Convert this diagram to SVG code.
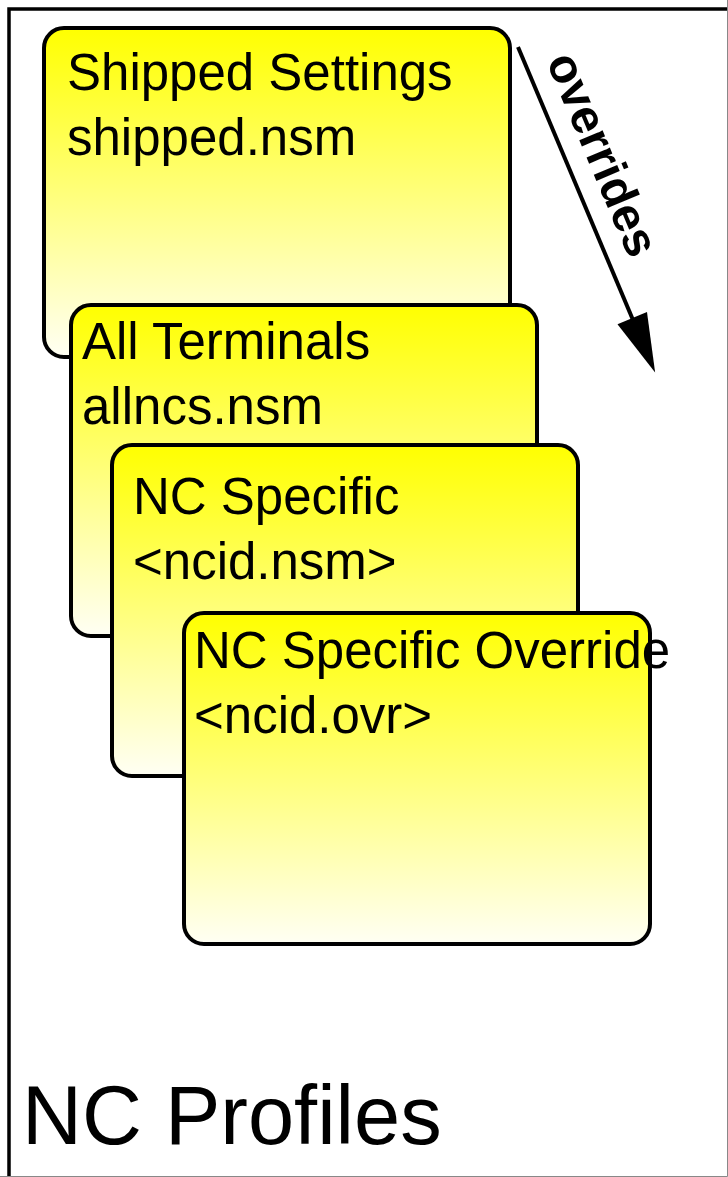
<svg xmlns="http://www.w3.org/2000/svg" width="728" height="1177" viewBox="0 0 728 1177">
  <style>
    .box { stroke: #000; stroke-width: 4; fill: url(#yg); }
    .lbl { font-family: "Liberation Sans", Arial, sans-serif; font-size: 51px; fill: #000; }
    .title { font-family: "Liberation Sans", Arial, sans-serif; font-size: 83px; fill: #000; }
    .ovr { font-family: "Liberation Sans", Arial, sans-serif; font-size: 48px; font-weight: bold; fill: #000; }
  </style>
  <defs>
    <linearGradient id="yg" x1="0" y1="0" x2="0" y2="1">
      <stop offset="0" stop-color="#ffff00"/>
      <stop offset="1" stop-color="#fffff4"/>
    </linearGradient>
    <marker id="ah" markerUnits="userSpaceOnUse" markerWidth="62" markerHeight="34" refX="2" refY="16" orient="auto" overflow="visible">
      <path d="M0,0 L59,16 L0,32 z" fill="#000"/>
    </marker>
  </defs>
  <rect x="0" y="0" width="728" height="1177" fill="#fff"/>
  <g id="frame">
    <rect x="9" y="9" width="740" height="1190" fill="none" stroke="#000" stroke-width="3.5"/>
    <path d="M727.5,0 V1176.5 H0" fill="none" stroke="#888" stroke-width="1"/>
    <text class="title" x="22" y="1144">NC Profiles</text>
  </g>
  <g id="shipped">
    <rect class="box" x="44" y="28" width="466" height="329" rx="20"/>
    <text class="lbl" x="67" y="90">Shipped Settings</text>
    <text class="lbl" x="67" y="155">shipped.nsm</text>
  </g>
  <g id="allterminals">
    <rect class="box" x="71" y="305" width="466" height="331" rx="20"/>
    <text class="lbl" x="82" y="359">All Terminals</text>
    <text class="lbl" x="82" y="424">allncs.nsm</text>
  </g>
  <g id="ncspecific">
    <rect class="box" x="112" y="445" width="466" height="331" rx="20"/>
    <text class="lbl" x="133" y="514">NC Specific</text>
    <text class="lbl" x="133" y="579">&lt;ncid.nsm&gt;</text>
  </g>
  <g id="ncoverride">
    <rect class="box" x="184" y="613" width="466" height="331" rx="20"/>
    <text class="lbl" x="194" y="668">NC Specific Override</text>
    <text class="lbl" x="194" y="733">&lt;ncid.ovr&gt;</text>
  </g>
  <g id="connectors">
    <line x1="518" y1="47" x2="633" y2="320" stroke="#000" stroke-width="4" marker-end="url(#ah)"/>
    <text class="ovr" transform="translate(546,61) rotate(67.2)">overrides</text>
  </g>
</svg>
